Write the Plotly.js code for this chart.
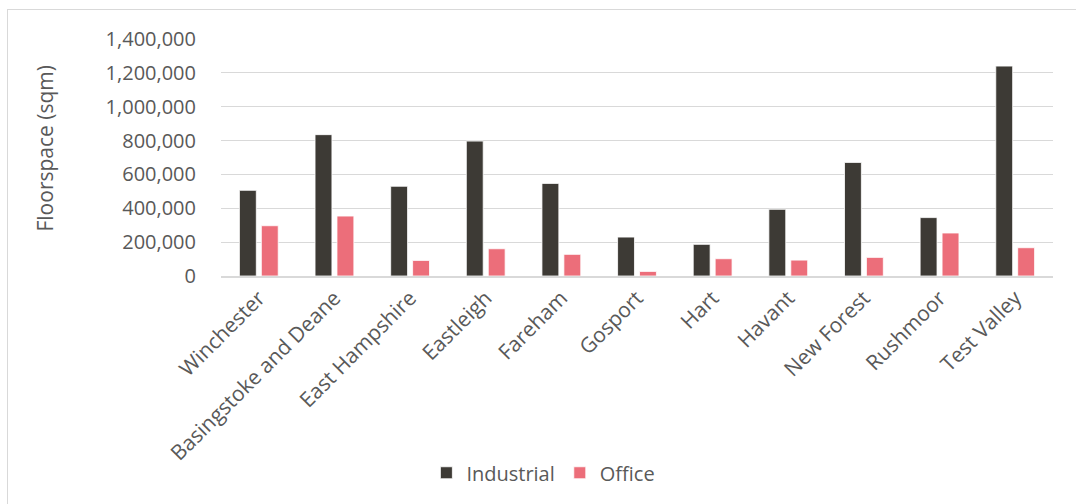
<!DOCTYPE html>
<html>
<head>
<meta charset="utf-8">
<script src="https://cdn.plot.ly/plotly-3.0.1.min.js"></script>
<style>
  html, body { margin: 0; padding: 0; background: #ffffff; }
  #wrap { position: relative; width: 1076px; height: 504px; overflow: hidden; }
  #frame { position: absolute; left: 7px; top: 9px; width: 1090px; height: 520px; border: 1px solid #d9d9d9; box-sizing: border-box; pointer-events: none; }
  #chart { position: absolute; left: 0; top: 0; width: 1076px; height: 504px; }
</style>
</head>
<body>
<div id="wrap">
  <div id="chart"></div>
  <div id="frame"></div>
</div>
<script>
const categories = ["Winchester", "Basingstoke and Deane", "East Hampshire", "Eastleigh", "Fareham", "Gosport", "Hart", "Havant", "New Forest", "Rushmoor", "Test Valley"];
const industrial = [506000, 835000, 530000, 797000, 547000, 230000, 187000, 394000, 671000, 345000, 1240000];
const office = [297000, 354000, 92000, 161000, 128000, 27000, 102000, 94000, 110000, 254000, 167000];
const yTickVals = [0, 200000, 400000, 600000, 800000, 1000000, 1200000, 1400000];
const yTitle = "Floorspace (sqm)";

const FONT = "Open Sans, Calibri, Carlito, sans-serif";
const TXT = "#595959";

const traces = [
  {
    type: "bar", name: "Industrial", x: categories, y: industrial,
    marker: { color: "#3d3a35", line: { color: "#ffffff", width: 0.8 } },
    hoverinfo: "skip"
  },
  {
    type: "bar", name: "Office", x: categories, y: office,
    marker: { color: "#ec6e7a", line: { color: "#ffffff", width: 0.8 } },
    hoverinfo: "skip"
  }
];

const layout = {
  width: 1076, height: 504,
  paper_bgcolor: "rgba(0,0,0,0)", plot_bgcolor: "rgba(0,0,0,0)",
  margin: { l: 221, r: 23, t: 39, b: 228, pad: 0 },
  font: { family: FONT, color: TXT, size: 20 },
  barmode: "group", bargap: 0.42, bargroupgap: 0.23,
  showlegend: true,
  legend: {
    orientation: "h", xref: "container", yref: "container",
    x: 0.505, xanchor: "center", y: 0.062, yanchor: "middle",
    font: { family: FONT, size: 20, color: TXT },
    itemclick: false, itemdoubleclick: false
  },
  xaxis: {
    type: "category", tickangle: -45,
    tickfont: { family: FONT, size: 21, color: TXT },
    showgrid: false, showline: true, linecolor: "#d9d9d9", linewidth: 1.5,
    ticks: "", fixedrange: true, automargin: false
  },
  yaxis: {
    range: [0, 1400000], tickvals: yTickVals,
    tickformat: ",d",
    tickfont: { family: FONT, size: 20, color: TXT },
    showgrid: true, gridcolor: "#d9d9d9", gridwidth: 1.2,
    zeroline: false, showline: false, ticks: "",
    ticklabelstandoff: 24,
    fixedrange: true, automargin: false
  },
  annotations: [{
    text: yTitle, xref: "paper", yref: "paper",
    x: -0.2115, y: 0.538, xanchor: "center", yanchor: "middle",
    textangle: -90, showarrow: false,
    font: { family: FONT, size: 21, color: TXT }
  }]
};

Plotly.newPlot("chart", traces, layout, { displayModeBar: false, staticPlot: true });
</script>
</body>
</html>
